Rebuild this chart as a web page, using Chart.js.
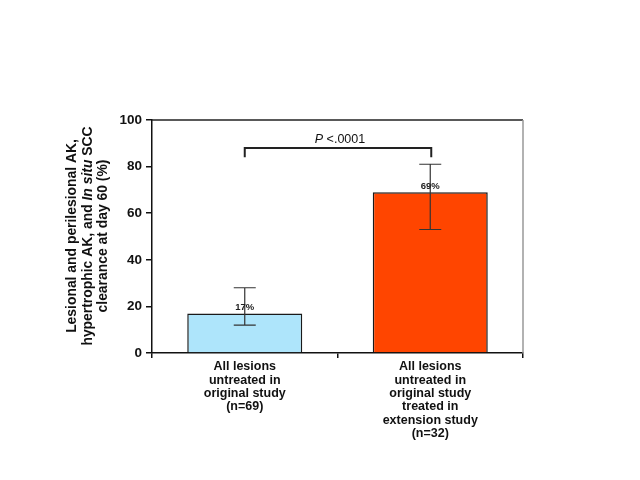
<!DOCTYPE html>
<html><head><meta charset="utf-8">
<script src="https://cdn.jsdelivr.net/npm/chart.js@4/dist/chart.umd.min.js"></script>
<style>html,body{margin:0;padding:0;background:#fff}#wrap{width:640px;height:480px}</style>
</head><body><div id="wrap"><canvas id="c" width="640" height="480"></canvas></div>
<script>
const categories = [
  ["All lesions","untreated in","original study","(n=69)"],
  ["All lesions","untreated in","original study","treated in","extension study","(n=32)"]
];
const values = [17, 69];
const errLow = [12, 53];
const errHigh = [28, 81];
const valueLabels = ["17%", "69%"];
const barColors = ["#aee5fb", "#ff4500"];
const yTicks = [0, 20, 40, 60, 80, 100];
const bracketY = 88;
const bracketFootY = 84;
const pLabel = ".0001";
const yTitle = ["Lesional and perilesional AK,", "hypertrophic AK, and ", "clearance at day 60 (%)"];

const FONT = "'Liberation Sans', Arial, sans-serif";

const overlay = {
  id: 'overlay',
  afterDatasetsDraw(chart) {
    const ctx = chart.ctx, x = chart.scales.x, y = chart.scales.y, a = chart.chartArea;
    ctx.save();
    // box top & right
    ctx.lineWidth = 1.5;
    ctx.strokeStyle = '#222';
    ctx.beginPath(); ctx.moveTo(a.left, a.top); ctx.lineTo(a.right, a.top); ctx.stroke();
    ctx.strokeStyle = '#999';
    ctx.beginPath(); ctx.moveTo(a.right, a.top); ctx.lineTo(a.right, a.bottom); ctx.stroke();
    // error bars
    values.forEach((v, i) => {
      const cx = x.getPixelForValue(i);
      const yl = y.getPixelForValue(errLow[i]), yh = y.getPixelForValue(errHigh[i]);
      ctx.strokeStyle = '#333'; ctx.lineWidth = 1.2;
      ctx.beginPath();
      ctx.moveTo(cx, yl); ctx.lineTo(cx, yh);
      ctx.moveTo(cx - 11, yl); ctx.lineTo(cx + 11, yl);
      ctx.moveTo(cx - 11, yh); ctx.lineTo(cx + 11, yh);
      ctx.stroke();
      // value label
      ctx.fillStyle = '#222';
      ctx.font = 'bold 9.5px ' + FONT;
      ctx.textAlign = 'center'; ctx.textBaseline = 'bottom';
      ctx.fillText(valueLabels[i], cx, y.getPixelForValue(v) - 1);
    });
    // bracket
    const x0 = x.getPixelForValue(0), x1 = x.getPixelForValue(1) + 1;
    const by = y.getPixelForValue(bracketY), fy = y.getPixelForValue(bracketFootY);
    ctx.strokeStyle = '#222'; ctx.lineWidth = 2;
    ctx.beginPath();
    ctx.moveTo(x0, fy); ctx.lineTo(x0, by); ctx.lineTo(x1, by); ctx.lineTo(x1, fy);
    ctx.stroke();
    // P label
    ctx.fillStyle = '#111';
    ctx.textBaseline = 'alphabetic';
    const f1 = 'italic 12.5px ' + FONT, f2 = '12.5px ' + FONT;
    ctx.font = f1; const w1 = ctx.measureText('P ').width;
    ctx.font = f2; const w2 = ctx.measureText('<' + pLabel).width;
    const mid = (x0 + x1) / 2 + 2;
    let sx = mid - (w1 + w2) / 2;
    ctx.textAlign = 'left';
    ctx.font = f1; ctx.fillText('P ', sx, by - 5);
    ctx.font = f2; ctx.fillText('<' + pLabel, sx + w1, by - 5);
    // y title
    ctx.translate(88, 236);
    ctx.rotate(-Math.PI / 2);
    ctx.fillStyle = '#111';
    const tb = 'bold 13.9px ' + FONT, ti = 'bold italic 13.9px ' + FONT;
    ctx.textBaseline = 'middle'; ctx.textAlign = 'center';
    ctx.font = tb;
    ctx.fillText(yTitle[0], 0, -15.5);
    ctx.fillText(yTitle[2], 0, 15.5);
    const parts = [[yTitle[1], tb], ['In situ', ti], [' SCC', tb]];
    let tw = 0;
    parts.forEach(p => { ctx.font = p[1]; tw += ctx.measureText(p[0]).width; });
    let px = -tw / 2;
    ctx.textAlign = 'left';
    parts.forEach(p => { ctx.font = p[1]; ctx.fillText(p[0], px, 0); px += ctx.measureText(p[0]).width; });
    ctx.restore();
  }
};

new Chart(document.getElementById('c'), {
  type: 'bar',
  data: {
    labels: categories,
    datasets: [{
      data: values,
      backgroundColor: barColors,
      borderColor: '#1a1a1a',
      borderWidth: 1.5,
      borderSkipped: 'bottom',
      categoryPercentage: 1,
      barPercentage: 0.62
    }]
  },
  options: {
    responsive: false,
    animation: false,
    devicePixelRatio: 1,
    layout: { padding: { left: 0, top: 120, right: 117, bottom: 0 } },
    plugins: { legend: { display: false }, tooltip: { enabled: false } },
    scales: {
      x: {
        grid: { display: true, drawOnChartArea: false, offset: true, tickLength: 5, color: '#111', lineWidth: 1.5 },
        border: { display: true, color: '#111', width: 1.5 },
        ticks: { color: '#111', font: { family: FONT, size: 12.5, weight: 'bold', lineHeight: 1.07 }, padding: 2, maxRotation: 0, autoSkip: false },
        afterFit(s) { s.height = 127; }
      },
      y: {
        min: 0, max: 100,
        afterBuildTicks(s) { s.ticks = yTicks.map(v => ({ value: v })); },
        grid: { display: true, drawOnChartArea: false, tickLength: 6, color: '#111', lineWidth: 1.5 },
        border: { display: true, color: '#111', width: 1.5 },
        ticks: { color: '#111', font: { family: FONT, size: 13.5, weight: 'bold' }, padding: 4 },
        afterFit(s) { s.width = 152; }
      }
    }
  },
  plugins: [overlay]
});
</script>
</body></html>
